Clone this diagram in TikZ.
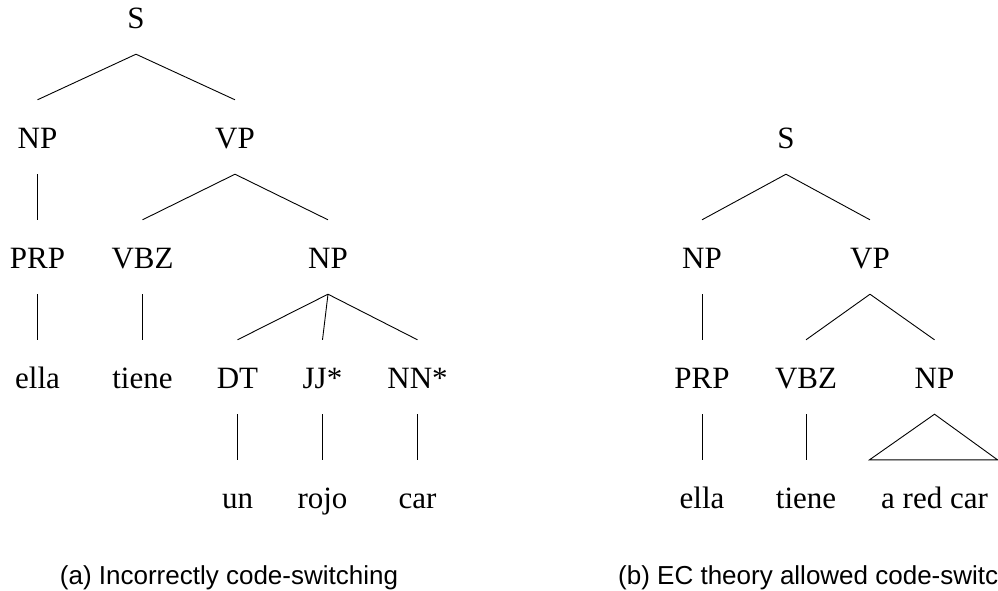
\documentclass[tikz,border=0pt]{standalone}
\usepackage{fontspec}
\setmainfont{Liberation Serif}
\newfontfamily\capfont{Liberation Sans}
\begin{document}
\begin{tikzpicture}[x=1pt,y=-1pt,
  cat/.style={anchor=base,inner sep=0pt,text height=48pt,text depth=26pt,
    font=\fontsize{31}{31}\selectfont},
  branch/.style={line width=0.9pt},
  caption/.style={inner sep=0pt,font=\capfont\fontsize{26}{26}\selectfont}]
\useasboundingbox (0,0) rectangle (998,590);

% ---- (a) tree ----
\node[cat] (aS)   at (136,28)  {S};
\node[cat] (aNP)  at (37.5,148) {NP};
\node[cat] (aVP)  at (235,148) {VP};
\node[cat] (aPRP) at (37.5,268) {PRP};
\node[cat] (aVBZ) at (142.5,268) {VBZ};
\node[cat] (aNP2) at (328,268) {NP};
\node[cat] (aW1)  at (37.5,388) {ella};
\node[cat] (aW2)  at (142.5,388) {tiene};
\node[cat] (aDT)  at (237.5,388) {DT};
\node[cat] (aJJ)  at (322.5,388) {JJ*};
\node[cat] (aNN)  at (417.5,388) {NN*};
\node[cat] (aW3)  at (237.5,508) {un};
\node[cat] (aW4)  at (322.5,508) {rojo};
\node[cat] (aW5)  at (417.5,508) {car};

\draw[branch] (aS.south) -- (aNP.north);
\draw[branch] (aS.south) -- (aVP.north);
\draw[branch] (aNP.north |- aNP.south) -- (aPRP.north);
\draw[branch] (aVP.south) -- (aVBZ.north);
\draw[branch] (aVP.south) -- (aNP2.north);
\draw[branch] (aPRP.south) -- (aW1.north);
\draw[branch] (aVBZ.south) -- (aW2.north);
\draw[branch] (aNP2.south) -- (aDT.north);
\draw[branch] (aNP2.south) -- (aJJ.north);
\draw[branch] (aNP2.south) -- (aNN.north);
\draw[branch] (aDT.south) -- (aW3.north);
\draw[branch] (aJJ.south) -- (aW4.north);
\draw[branch] (aNN.south) -- (aW5.north);

\node[caption,anchor=base] (capA) at (229,584) {(a) Incorrectly code-switching};

% ---- (b) tree ----
\node[cat] (bS)   at (786,148) {S};
\node[cat] (bNP)  at (702,268) {NP};
\node[cat] (bVP)  at (870,268) {VP};
\node[cat] (bPRP) at (702,388) {PRP};
\node[cat] (bVBZ) at (806,388) {VBZ};
\node[cat] (bNP2) at (934.5,388) {NP};
\node[cat] (bW1)  at (702,508) {ella};
\node[cat] (bW2)  at (806,508) {tiene};
\node[cat] (bW3)  at (934.5,508) {a red car};
\coordinate (bL) at ([xshift=-65pt]bW3.north);
\coordinate (bR) at ([xshift=63pt]bW3.north);

\draw[branch] (bS.south) -- (bNP.north);
\draw[branch] (bS.south) -- (bVP.north);
\draw[branch] (bNP.south) -- (bPRP.north);
\draw[branch] (bVP.south) -- (bVBZ.north);
\draw[branch] (bVP.south) -- (bNP2.north);
\draw[branch] (bPRP.south) -- (bW1.north);
\draw[branch] (bVBZ.south) -- (bW2.north);
\draw[branch,line join=miter] (bNP2.south) -- (bL) -- (bR) -- cycle;

\node[caption,anchor=base west] (capB) at (618,584) {(b) EC theory allowed code-switching};
\end{tikzpicture}
\end{document}
